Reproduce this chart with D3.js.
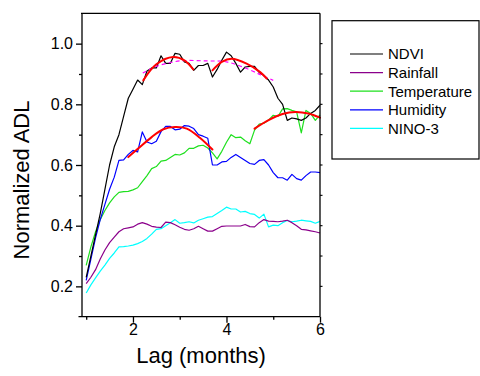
<!DOCTYPE html>
<html>
<head>
<meta charset="utf-8">
<script src="https://cdn.jsdelivr.net/npm/d3@7"></script>
<style>
  html, body { margin: 0; padding: 0; background: #fff; }
  svg { display: block; font-family: Arial, "Liberation Sans", sans-serif; }
</style>
</head>
<body>
<svg id="chart" width="480" height="376"></svg>
<script>
// ---- data ----
const lag = [1.0,1.1,1.2,1.3,1.4,1.5,1.6,1.7,1.8,1.9,2.0,2.1,2.2,2.3,2.4,2.5,2.6,2.7,2.8,2.9,3.0,3.1,3.2,3.3,3.4,3.5,3.6,3.7,3.8,3.9,4.0,4.1,4.2,4.3,4.4,4.5,4.6,4.7,4.8,4.9,5.0,5.1,5.2,5.3,5.4,5.5,5.6,5.7,5.8,5.9,6.0];

const ndvi = [0.23,0.30,0.37,0.44,0.52,0.60,0.66,0.70,0.76,0.82,0.85,0.88,0.865,0.91,0.92,0.92,0.96,0.935,0.935,0.968,0.965,0.94,0.935,0.912,0.928,0.928,0.935,0.89,0.915,0.945,0.972,0.96,0.935,0.906,0.923,0.925,0.925,0.905,0.895,0.88,0.857,0.82,0.80,0.747,0.755,0.752,0.747,0.755,0.77,0.78,0.797];

const rainfall = [0.209,0.23,0.255,0.29,0.32,0.344,0.362,0.38,0.39,0.393,0.396,0.405,0.41,0.405,0.398,0.395,0.394,0.412,0.41,0.403,0.395,0.388,0.385,0.39,0.398,0.39,0.382,0.382,0.39,0.398,0.399,0.399,0.399,0.399,0.404,0.397,0.396,0.41,0.42,0.415,0.414,0.413,0.415,0.418,0.41,0.40,0.388,0.386,0.383,0.38,0.376];

const temperature = [0.269,0.33,0.38,0.42,0.45,0.475,0.495,0.51,0.512,0.513,0.518,0.525,0.545,0.565,0.588,0.595,0.613,0.615,0.625,0.635,0.633,0.64,0.655,0.655,0.663,0.665,0.656,0.64,0.62,0.645,0.675,0.70,0.69,0.692,0.68,0.67,0.715,0.735,0.738,0.748,0.764,0.76,0.785,0.786,0.78,0.775,0.706,0.78,0.77,0.747,0.765];

const humidity = [0.22,0.29,0.36,0.42,0.47,0.52,0.56,0.615,0.617,0.635,0.648,0.643,0.709,0.676,0.67,0.678,0.71,0.727,0.727,0.716,0.718,0.73,0.728,0.72,0.70,0.695,0.688,0.60,0.60,0.61,0.612,0.625,0.635,0.625,0.615,0.605,0.602,0.615,0.618,0.60,0.575,0.558,0.558,0.55,0.569,0.555,0.55,0.565,0.577,0.577,0.575];

const nino3 = [0.178,0.205,0.228,0.25,0.27,0.292,0.31,0.33,0.331,0.333,0.336,0.341,0.348,0.358,0.372,0.388,0.39,0.40,0.41,0.42,0.408,0.41,0.413,0.409,0.418,0.423,0.428,0.43,0.44,0.45,0.461,0.455,0.455,0.445,0.447,0.44,0.437,0.425,0.438,0.396,0.402,0.40,0.41,0.417,0.413,0.415,0.418,0.416,0.414,0.408,0.414];

// fitted arcs
const fitNdviAX = [2.22,2.5,2.86,3.1,3.29];
const fitNdviAY = [0.879,0.932,0.956,0.945,0.915];
const fitNdviBX = [3.70,3.9,4.11,4.43,4.72,4.86];
const fitNdviBY = [0.912,0.94,0.95,0.934,0.906,0.885];
const fitHumX = [1.90,2.11,2.4,2.65,2.9,3.15,3.43,3.70];
const fitHumY = [0.626,0.654,0.692,0.718,0.725,0.72,0.69,0.651];
const fitTempX = [4.60,4.9,5.2,5.47,5.75,6.0];
const fitTempY = [0.72,0.748,0.768,0.775,0.77,0.756];
const fitDashX = [2.21,2.5,3.0,3.58,4.0,4.43,4.75,5.0];
const fitDashY = [0.903,0.925,0.943,0.943,0.94,0.918,0.896,0.879];

const seriesNames = ["NDVI","Rainfall","Temperature","Humidity","NINO-3"];
const seriesColors = ["#000000","#8B008B","#1EE01E","#0000FF","#00FFFF"];
const xTickLabels = [2,4,6];
const yTickLabels = [0.2,0.4,0.6,0.8,1.0];

// ---- layout ----
const svg = d3.select("#chart");
const L = 82, R = 320, T = 13.3, B = 316.7;
const x = d3.scaleLinear().domain([0.91, 6]).range([L, R]);
const y = d3.scaleLinear().domain([0.1, 1.1]).range([B, T]);

const seriesData = [ndvi, rainfall, temperature, humidity, nino3];

const line = d3.line().x(d => x(d[0])).y(d => y(d[1]));
const smooth = d3.line().x(d => x(d[0])).y(d => y(d[1])).curve(d3.curveCatmullRom.alpha(0.5));

// draw order: NINO-3, Rainfall, Temperature, Humidity, NDVI
const order = [4,1,2,3,0];
order.forEach(i => {
  svg.append("path")
    .datum(lag.map((v, k) => [v, seriesData[i][k]]))
    .attr("d", line)
    .attr("fill", "none")
    .attr("stroke", seriesColors[i])
    .attr("stroke-width", 1.2)
    .attr("stroke-linejoin", "round");
});

// dashed magenta fit
svg.append("path")
  .datum(fitDashX.map((v, k) => [v, fitDashY[k]]))
  .attr("d", smooth)
  .attr("fill", "none")
  .attr("stroke", "#FF00FF")
  .attr("stroke-width", 1.2)
  .attr("stroke-dasharray", "4,3");

// red fits
[[fitNdviAX, fitNdviAY],[fitNdviBX, fitNdviBY],[fitHumX, fitHumY],[fitTempX, fitTempY]].forEach(([fx, fy]) => {
  svg.append("path")
    .datum(fx.map((v, k) => [v, fy[k]]))
    .attr("d", smooth)
    .attr("fill", "none")
    .attr("stroke", "#FF0000")
    .attr("stroke-width", 2)
    .attr("stroke-linecap", "round");
});

// ---- axes / frame ----
const frame = svg.append("g").attr("stroke", "#000").attr("stroke-width", 1.3).attr("fill", "none");
frame.append("line").attr("x1", L).attr("x2", L).attr("y1", T).attr("y2", B);
frame.append("line").attr("x1", R).attr("x2", R).attr("y1", T).attr("y2", B);
frame.append("line").attr("x1", L - 1).attr("x2", R).attr("y1", T).attr("y2", T);
frame.append("line").attr("x1", L - 3.5).attr("x2", R).attr("y1", B).attr("y2", B);

const xAxis = d3.axisBottom(x).tickValues([1,2,3,4,5,6]).tickSize(0).tickFormat(d => xTickLabels.includes(d) ? d : "");
const gx = svg.append("g").attr("transform", `translate(0,${B})`).call(xAxis);
gx.select(".domain").remove();
gx.selectAll("text").attr("font-size", 16).attr("font-family", "Arial, 'Liberation Sans', sans-serif").attr("fill", "#000").attr("dy", "0.95em");
gx.selectAll(".tick").append("line")
  .attr("y2", d => xTickLabels.includes(d) ? 6 : 3)
  .attr("stroke", "#000").attr("stroke-width", 1.3);

const yAxis = d3.axisLeft(y).tickValues([0.1,0.2,0.3,0.4,0.5,0.6,0.7,0.8,0.9,1.0,1.1]).tickSize(0)
  .tickFormat(d => yTickLabels.some(t => Math.abs(t - d) < 1e-6) ? d3.format(".1f")(d) : "");
const gy = svg.append("g").attr("transform", `translate(${L},0)`).call(yAxis);
gy.select(".domain").remove();
gy.selectAll("text").attr("font-size", 16).attr("font-family", "Arial, 'Liberation Sans', sans-serif").attr("fill", "#000").attr("x", -9);
gy.selectAll(".tick").filter(d => d > 0.15 && d < 1.05).append("line")
  .attr("x2", d => yTickLabels.some(t => Math.abs(t - d) < 1e-6) ? -6 : -3)
  .attr("stroke", "#000").attr("stroke-width", 1.3);

// right-side small ticks
svg.append("g").selectAll("line").data([0.2,0.3,0.4,0.5,0.6,0.7,0.8,0.9,1.0]).join("line")
  .attr("x1", R).attr("x2", R + 2.5).attr("y1", d => y(d)).attr("y2", d => y(d))
  .attr("stroke", "#000").attr("stroke-width", 1.1);

// axis titles
svg.append("text")
  .attr("x", (L + R) / 2).attr("y", 363)
  .attr("text-anchor", "middle").attr("font-size", 22).attr("fill", "#000")
  .text("Lag (months)");
svg.append("text")
  .attr("transform", `translate(29,180) rotate(-90)`)
  .attr("text-anchor", "middle").attr("font-size", 22).attr("fill", "#000")
  .text("Normalized ADL");

// ---- legend ----
const lg = svg.append("g");
lg.append("rect").attr("x", 332).attr("y", 20.7).attr("width", 147).attr("height", 138.3)
  .attr("fill", "#fff").attr("stroke", "#000").attr("stroke-width", 1.2);
seriesNames.forEach((name, i) => {
  const yy = 54 + i * 18.6;
  lg.append("line").attr("x1", 350).attr("x2", 383).attr("y1", yy).attr("y2", yy)
    .attr("stroke", seriesColors[i]).attr("stroke-width", 1.2);
  lg.append("text").attr("x", 388).attr("y", yy).attr("dy", "0.36em")
    .attr("font-size", 15).attr("fill", "#000").text(name);
});
</script>
</body>
</html>
